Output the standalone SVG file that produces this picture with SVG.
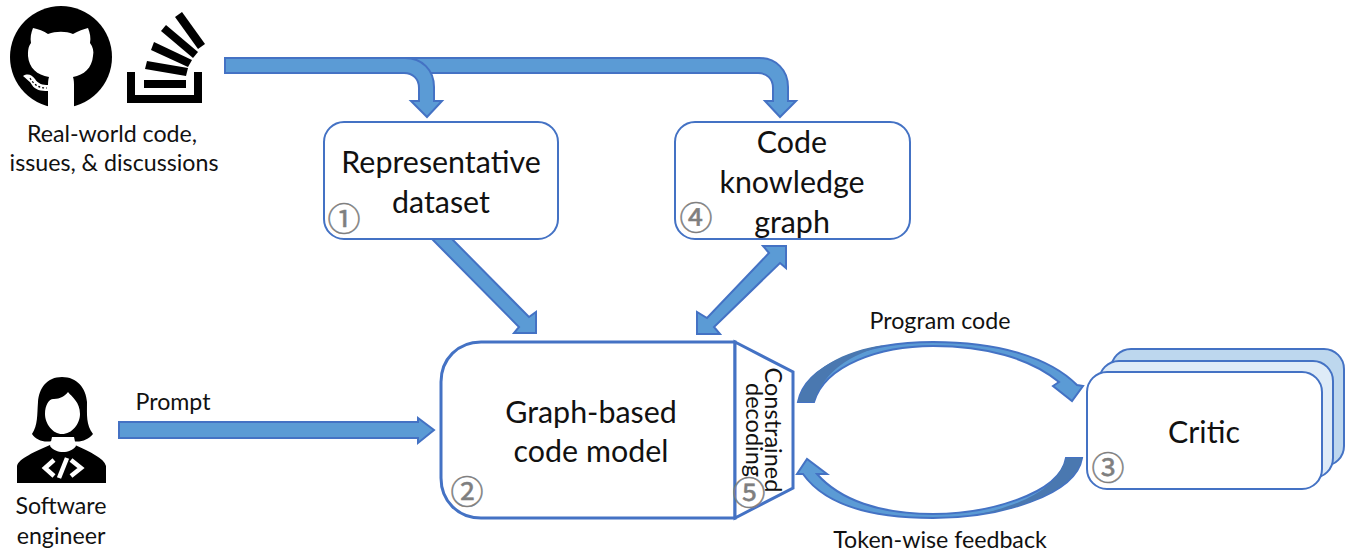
<svg xmlns="http://www.w3.org/2000/svg" width="1347" height="556" viewBox="0 0 1347 556">
<style>
text{font-family:"Lato","Liberation Sans",sans-serif;fill:#111;text-anchor:middle}
.s{font-size:23.2px}
.m{font-size:30.4px}
.d{font-size:23.5px}
.n{font-family:"Noto Sans CJK SC","Noto Sans",sans-serif;font-size:33px;fill:#7f7f7f;stroke:#7f7f7f;stroke-width:.5px}
.box{fill:#fff;stroke:#4472c4;stroke-width:2}
.thick{stroke-width:3}
.arr{fill:#5b9bd5;stroke:#4472c4;stroke-width:2;stroke-linejoin:miter}
.dark{fill:#4a78b0}
.k{fill:#000}
.w{fill:#fff}
</style>
<rect width="1347" height="556" fill="#fff"/>
<g id="github">
<circle class="k" cx="61" cy="57" r="51"/>
<path class="w" d="M33,28 C38,29 44,31 48,34 C56,31 66,31 73,34 C78,31 84,29 88,28 C90,33 91,38 90,43 C93,47 94,51 93,56 C92,68 84,75 73,77 C74,80 74,83 74,87 L74,108 L48,108 L48,87 C48,83 48,80 49,77 C37,75 29,68 28,56 C28,51 28,47 31,43 C30,38 31,33 33,28Z"/>
<path class="w" d="M23,76 C28,73 32,75 35,79 C38,84 43,85 48,85 L48,91 C41,91 35,90 32,85 C30,81 26,79 23,76Z"/>
<path d="M30,78 C34,85 39,88 47,88" fill="none" stroke="#000" stroke-width="1.2" stroke-dasharray="2 2"/>
</g>
<g id="stackoverflow">
<path class="k" d="M127,72H135V95H194V72H202V103H127Z"/>
<path class="k" d="M144,80H186V88H144Z"/>
<path class="k" d="M147,61L188,68L186,76L145,69Z"/>
<path class="k" d="M154,42L192,60L188,67L151,50Z"/>
<path class="k" d="M166,25L198,52L193,58L161,31Z"/>
<path class="k" d="M182,12L205,44L198,49L175,17Z"/>
</g>
<g id="sources-label">
<text class="s" x="112" y="142">Real-world code,</text>
<text class="s" x="114" y="171">issues, &amp; discussions</text>
</g>
<g id="engineer">
<path class="k" d="M62,377 C47,377 39,388 38,402 C37,415 38,425 32,434 C36,440 44,443 52,441 L72,441 C80,443 88,440 93,434 C86,425 87,415 87,402 C86,388 77,377 62,377Z"/>
<path class="k" d="M17,483 L17,466 C19,458 35,452 50,445 L75,445 C90,452 104,458 106,466 L106,483 Z"/>
<path class="w" d="M52,437 L74,437 L76,446 C70,454 56,454 50,446Z"/>
<path class="w" d="M45,414 C45,404 50,398 54,399 C60,399 65,396 68,392 C72,397 80,402 80,414 C80,424 72,434 62,434 C53,434 45,424 45,414Z"/>
<g fill="none" stroke="#fff" stroke-width="4.5">
<path d="M54,460L45,468L54,476"/>
<path d="M71,460L81,468L71,476"/>
<path d="M67,458L59,478"/>
</g>
<text class="s" x="61" y="514">Software</text>
<text class="s" x="61" y="544">engineer</text>
</g>
<g id="connectors">
<path class="arr" d="M225,58H759C776,58 788,70 788,87V101H796L780,117L765,101H773V88C773,79 767,73 758,73H225Z"/>
<path class="arr" d="M225,58H405C422,58 434,70 434,87V101H442L427,117L411,101H419V88C419,79 413,73 404,73H225Z"/>
<path class="arr" d="M432,239H452L529,317L536,312V333H514L519,327Z"/>
<path class="arr" d="M769,253L763,246H786V268L780,263L714,327L720,334H697V312L707,318Z"/>
<path class="arr" d="M119,422H418V418L434,430L418,443V438H119Z"/>
<path class="arr" d="M798,402C805,365 865,342 933,342C1000,342 1050,358 1077,385L1083,386L1072,401L1053,386L1059,382C1030,358 985,346 933,346C880,346 825,365 814,402Z"/>
<path class="dark" d="M798,402C805,370 845,350 885,345C850,355 825,370 814,402Z"/>
<path class="arr" d="M1082,458C1076,495 1000,518 933,518C870,518 825,505 803,474L797,474L807,459L827,474L817,474C840,500 880,514 933,514C985,514 1060,495 1066,458Z"/>
<path class="dark" d="M1082,458C1078,485 1030,508 980,514C1030,503 1058,485 1066,458Z"/>
</g>
<g id="dataset">
<rect class="box" x="324" y="122" width="234" height="117" rx="20"/>
<text class="m" x="441" y="173">Representative</text>
<text class="m" x="441" y="213">dataset</text>
<text class="n" x="344" y="231">①</text>
</g>
<g id="knowledge-graph">
<rect class="box" x="675" y="122" width="235" height="117" rx="20"/>
<text class="m" x="792" y="153">Code</text>
<text class="m" x="792" y="193">knowledge</text>
<text class="m" x="792" y="233">graph</text>
<text class="n" x="696" y="230">④</text>
</g>
<g id="code-model">
<path class="box thick" d="M735,342V518H481C458,518 441,501 441,478V382C441,359 458,342 481,342Z"/>
<text class="m" x="591" y="423">Graph-based</text>
<text class="m" x="591" y="462">code model</text>
<text class="n" x="467" y="504">②</text>
</g>
<g id="constrained-decoding">
<path class="box thick" d="M735,342L793,372V488L735,518Z"/>
<text class="d" transform="translate(765,430) rotate(90)">Constrained</text>
<text class="d" transform="translate(746,430) rotate(90)">decoding</text>
<text class="n" x="749" y="505">⑤</text>
</g>
<g id="critic">
<rect x="1111" y="349" width="233" height="117" rx="20" fill="#bdd7ee" stroke="#4472c4" stroke-width="2"/>
<rect x="1099" y="361" width="234" height="117" rx="20" fill="#deebf7" stroke="#4472c4" stroke-width="2"/>
<rect class="box" x="1087" y="372" width="235" height="117" rx="20"/>
<text class="m" x="1204" y="443">Critic</text>
<text class="n" x="1108" y="480">③</text>
</g>
<g id="edge-labels">
<text class="s" x="173" y="410">Prompt</text>
<text class="s" x="940" y="329">Program code</text>
<text class="s" x="940" y="548">Token-wise feedback</text>
</g>
</svg>
